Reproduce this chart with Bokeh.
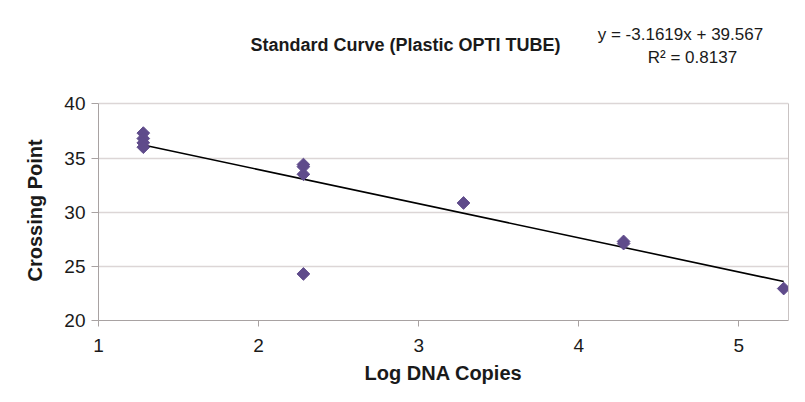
from bokeh.plotting import figure
from bokeh.models import Range1d, FixedTicker, Label, ColumnDataSource, LinearAxis, Title
from bokeh.embed import file_html
from bokeh.resources import INLINE

# ---- data ----
log_dna = [1.28, 1.28, 1.28, 1.28, 2.28, 2.28, 2.28, 2.28, 3.28, 4.28, 4.28, 5.28]
crossing_point = [37.3, 36.8, 36.4, 36.0, 34.4, 34.2, 33.5, 24.3, 30.85, 27.3, 27.1, 22.95]
trend_x = [1.28, 5.28]
trend_y = [36.2, 23.6]
x_ticks = [1, 2, 3, 4, 5]
y_ticks = [20, 25, 30, 35, 40]
title_text = "Standard Curve (Plastic OPTI TUBE)"
eq_text = "y = -3.1619x + 39.567"
r2_text = "R\u00b2 = 0.8137"
x_label = "Log DNA Copies"
y_label = "Crossing Point"

FONT = "Liberation Sans"
TXT = "#1a1a1a"
AXC = "#a8a2a2"

# frame extends above the value 40 so that the title texts can sit inside it
p = figure(width=789, height=386, output_backend="svg", toolbar_location=None,
           x_range=Range1d(1, 5.31), y_range=Range1d(20, 48.62),
           min_border_left=98, min_border_right=1, min_border_top=10, min_border_bottom=64)
p.background_fill_color = "white"
p.border_fill_color = "white"
p.outline_line_color = None

# grid
p.xgrid.grid_line_color = None
p.ygrid.grid_line_color = "#dcd6d6"
p.ygrid.grid_line_width = 1.5

# axes
p.xaxis.ticker = FixedTicker(ticks=x_ticks)
p.yaxis.ticker = FixedTicker(ticks=y_ticks)
p.yaxis.bounds = (20, 40)
for ax in (p.xaxis[0], p.yaxis[0]):
    ax.axis_line_color = AXC
    ax.major_tick_line_color = AXC
    ax.minor_tick_line_color = None
    ax.major_tick_in = 0
    ax.major_label_text_font = FONT
    ax.major_label_text_font_size = "19px"
    ax.major_label_text_color = TXT
    ax.axis_label_text_font = FONT
    ax.axis_label_text_font_style = "bold"
    ax.axis_label_text_font_size = "20px"
    ax.axis_label_text_color = TXT

p.xaxis.major_tick_out = 6
p.xaxis.major_label_standoff = 12
p.xaxis.axis_label = x_label
p.xaxis.axis_label_standoff = 7

p.yaxis.major_tick_out = 7
p.yaxis.major_label_standoff = 6

# y axis title, centred on the 20..40 span rather than the whole frame
p.add_layout(Title(text=y_label, align="left", offset=39, standoff=32,
                   text_font=FONT, text_font_style="bold", text_font_size="20px",
                   text_color=TXT), "left")

# right border of the plot area (20..40 only)
right_ax = LinearAxis(bounds=(20, 40), ticker=FixedTicker(ticks=[]),
                      axis_line_color="#c9c3c3", major_tick_line_color=None,
                      minor_tick_line_color=None, major_label_text_font_size="0px")
p.add_layout(right_ax, "right")

# trend line and points
p.line(trend_x, trend_y, line_color="#000000", line_width=1.6)
src = ColumnDataSource(dict(x=log_dna, y=crossing_point))
p.scatter("x", "y", source=src, marker="square", angle=0.7854, size=9,
          fill_color="#5f4b8b", line_color="#5f4b8b")

# texts
p.add_layout(Label(x=2.918, y=45.4, text=title_text, text_font=FONT,
                   text_font_style="bold", text_font_size="18px", text_color=TXT,
                   text_align="center", text_baseline="middle"))
p.add_layout(Label(x=4.635, y=46.36, text=eq_text, text_font=FONT,
                   text_font_size="17px", text_color=TXT,
                   text_align="center", text_baseline="middle"))
p.add_layout(Label(x=4.71, y=44.25, text=r2_text, text_font=FONT,
                   text_font_size="17px", text_color=TXT,
                   text_align="center", text_baseline="middle"))

open("out.html", "w").write(file_html(p, INLINE))
